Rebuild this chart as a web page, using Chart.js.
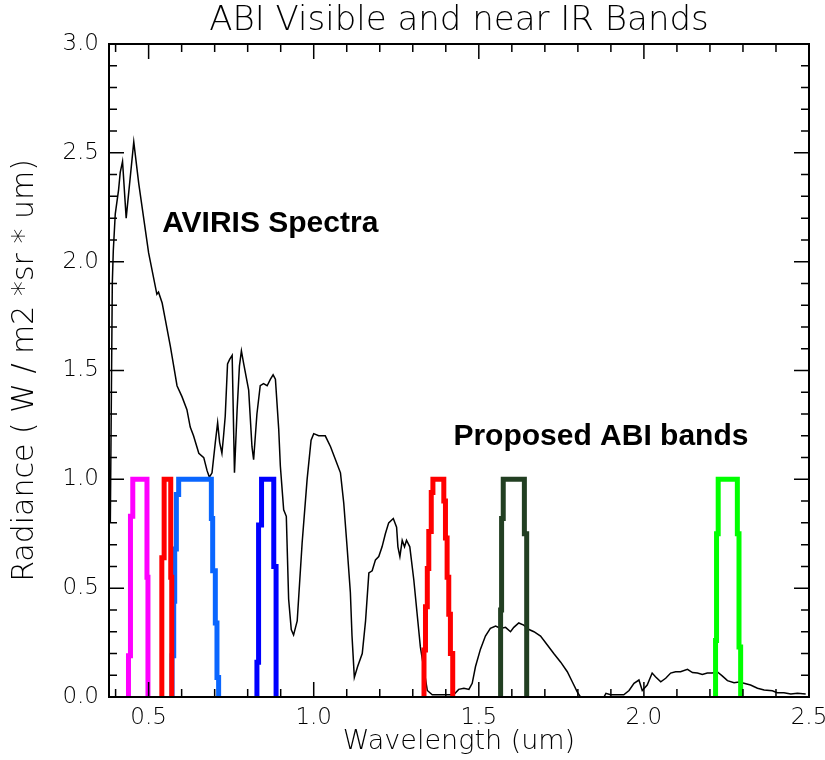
<!DOCTYPE html>
<html>
<head>
<meta charset="utf-8">
<title>ABI Visible and near IR Bands</title>
<script src="https://cdn.jsdelivr.net/npm/chart.js@4.4.1/dist/chart.umd.min.js"></script>
<style>
  html, body { margin: 0; padding: 0; background: #fff; }
</style>
</head>
<body>
<canvas id="chart" width="825" height="760"></canvas>
<script>
// ─── Data ───────────────────────────────────────────────────────────
const xTicks = [0.5, 1.0, 1.5, 2.0, 2.5];
const yTicks = [0.0, 0.5, 1.0, 1.5, 2.0, 2.5, 3.0];

// AVIRIS radiance spectrum: [wavelength um, radiance]
const aviris = [
    [0.384, 0.80], [0.390, 1.90], [0.393, 2.05], [0.399, 2.22], [0.409, 2.33],
    [0.414, 2.41], [0.421, 2.46], [0.432, 2.20], [0.455, 2.55], [0.470, 2.36],
    [0.500, 2.04], [0.525, 1.85], [0.530, 1.86], [0.541, 1.81], [0.551, 1.73],
    [0.566, 1.61], [0.576, 1.52], [0.586, 1.43], [0.601, 1.38], [0.616, 1.32],
    [0.626, 1.24], [0.636, 1.20], [0.652, 1.12], [0.667, 1.10], [0.677, 1.04],
    [0.684, 1.01], [0.692, 1.03], [0.702, 1.17], [0.709, 1.26], [0.715, 1.17],
    [0.722, 1.12], [0.727, 1.20], [0.732, 1.29], [0.739, 1.53], [0.745, 1.55],
    [0.753, 1.57], [0.760, 1.03], [0.768, 1.32], [0.775, 1.52], [0.781, 1.59],
    [0.788, 1.53], [0.803, 1.41], [0.813, 1.15], [0.818, 1.09], [0.828, 1.30],
    [0.838, 1.43], [0.848, 1.44], [0.859, 1.43], [0.869, 1.46], [0.877, 1.48],
    [0.884, 1.46], [0.894, 1.23], [0.899, 1.06], [0.909, 0.86], [0.917, 0.83],
    [0.924, 0.45], [0.932, 0.31], [0.939, 0.285], [0.950, 0.35], [0.965, 0.71],
    [0.980, 1.00], [0.992, 1.18], [1.000, 1.21], [1.015, 1.20], [1.035, 1.20],
    [1.051, 1.15], [1.066, 1.09], [1.081, 1.03], [1.091, 0.89], [1.101, 0.69],
    [1.111, 0.48], [1.116, 0.28], [1.123, 0.09], [1.133, 0.14], [1.147, 0.20],
    [1.157, 0.35], [1.167, 0.57], [1.177, 0.58], [1.187, 0.63], [1.197, 0.645],
    [1.207, 0.69], [1.217, 0.75], [1.227, 0.80], [1.241, 0.82], [1.251, 0.78],
    [1.255, 0.69], [1.261, 0.645], [1.268, 0.72], [1.275, 0.69], [1.281, 0.72],
    [1.291, 0.69], [1.303, 0.54], [1.313, 0.385], [1.323, 0.23], [1.344, 0.03],
    [1.359, 0.01], [1.424, 0.01], [1.439, 0.035], [1.455, 0.04], [1.470, 0.035],
    [1.480, 0.063], [1.490, 0.14], [1.505, 0.22], [1.520, 0.28], [1.535, 0.315],
    [1.551, 0.326], [1.566, 0.315], [1.581, 0.32], [1.596, 0.30], [1.606, 0.32],
    [1.621, 0.34], [1.636, 0.33], [1.652, 0.31], [1.667, 0.30], [1.687, 0.28],
    [1.707, 0.24], [1.727, 0.20], [1.748, 0.16], [1.768, 0.116], [1.783, 0.07],
    [1.798, 0.024], [1.808, 0.0], [1.879, 0.0], [1.885, 0.017], [1.899, 0.01],
    [1.939, 0.01], [1.955, 0.03], [1.970, 0.063], [1.985, 0.078], [1.995, 0.03],
    [2.010, 0.055], [2.025, 0.11], [2.035, 0.093], [2.051, 0.07], [2.066, 0.086],
    [2.081, 0.11], [2.096, 0.116], [2.111, 0.116], [2.132, 0.127], [2.147, 0.112],
    [2.162, 0.11], [2.177, 0.104], [2.192, 0.11], [2.207, 0.11], [2.222, 0.116],
    [2.238, 0.096], [2.253, 0.075], [2.273, 0.066], [2.288, 0.069], [2.303, 0.063],
    [2.323, 0.055], [2.344, 0.04], [2.364, 0.032], [2.389, 0.029], [2.404, 0.02],
    [2.424, 0.02], [2.445, 0.014], [2.465, 0.017], [2.490, 0.014]
];

// Proposed ABI band responses (normalised)
const band047 = [[0.439, 0], [0.439, 0.19], [0.445, 0.19], [0.445, 0.83], [0.452, 0.83], [0.452, 1.0],
    [0.495, 1.0], [0.495, 0.55], [0.498, 0.55], [0.498, 0]];
const band055 = [[0.540, 0], [0.540, 0.64], [0.547, 0.64], [0.547, 1.0], [0.567, 1.0],
    [0.567, 0.55], [0.570, 0.55], [0.570, 0]];
const band064 = [[0.571, 0], [0.571, 0.19], [0.576, 0.19], [0.576, 0.44], [0.579, 0.44], [0.579, 0.68],
    [0.584, 0.68], [0.584, 0.93], [0.591, 0.93], [0.591, 1.0], [0.690, 1.0], [0.690, 0.82],
    [0.694, 0.82], [0.694, 0.58], [0.702, 0.58], [0.702, 0.34], [0.707, 0.34], [0.707, 0.09],
    [0.712, 0.09], [0.712, 0]];
const band086 = [[0.828, 0], [0.828, 0.16], [0.833, 0.16], [0.833, 0.79], [0.842, 0.79], [0.842, 1.0],
    [0.879, 1.0], [0.879, 0.60], [0.886, 0.60], [0.886, 0]];
const band138 = [[1.334, 0], [1.334, 0.216], [1.3385, 0.216], [1.3385, 0.415], [1.344, 0.415],
    [1.344, 0.59], [1.3485, 0.59], [1.3485, 0.76], [1.356, 0.76], [1.356, 0.94], [1.361, 0.94],
    [1.361, 1.0], [1.394, 1.0], [1.394, 0.90], [1.399, 0.90], [1.399, 0.73], [1.404, 0.73],
    [1.404, 0.55], [1.409, 0.55], [1.409, 0.38], [1.414, 0.38], [1.414, 0.20], [1.421, 0.20], [1.421, 0]];
const band161 = [[1.566, 0], [1.566, 0.40], [1.569, 0.40], [1.569, 0.82], [1.574, 0.82], [1.574, 1.0],
    [1.638, 1.0], [1.638, 0.75], [1.645, 0.75], [1.645, 0]];
const band226 = [[2.217, 0], [2.217, 0.26], [2.220, 0.26], [2.220, 0.75], [2.225, 0.75], [2.225, 1.0],
    [2.283, 1.0], [2.283, 0.75], [2.288, 0.75], [2.288, 0.23], [2.293, 0.23], [2.293, 0]];

const notes = [
    { text: 'AVIRIS Spectra', x: 0.541, y: 2.137 },
    { text: 'Proposed ABI bands', x: 1.423, y: 1.158 }
];

// ─── Helpers ─────────────────────────────────────────────────────────
const toPts = arr => arr.map(p => ({ x: p[0], y: p[1] }));

function bandSet(pts, color) {
    return {
        data: toPts(pts),
        showLine: true,
        borderColor: color,
        borderWidth: 5,
        pointRadius: 0,
        tension: 0,
        borderJoinStyle: 'miter'
    };
}

// inward ticks, frame and the two text notes
const frameTicks = {
    id: 'frameTicks',
    afterDatasetsDraw(chart) {
        const { ctx, chartArea: a, scales: { x, y } } = chart;
        ctx.save();
        ctx.strokeStyle = '#000';
        ctx.lineWidth = 2;
        ctx.strokeRect(a.left, a.top, a.right - a.left, a.bottom - a.top);

        ctx.lineWidth = 1.5;
        ctx.beginPath();
        for (let i = 4; i <= 25; i++) {
            const px = x.getPixelForValue(i / 10);
            const len = i % 5 === 0 ? 15 : 8;
            ctx.moveTo(px, a.bottom); ctx.lineTo(px, a.bottom - len);
            ctx.moveTo(px, a.top); ctx.lineTo(px, a.top + len);
        }
        for (let i = 0; i <= 30; i++) {
            const py = y.getPixelForValue(i / 10);
            const len = i % 5 === 0 ? 15 : 8;
            ctx.moveTo(a.left, py); ctx.lineTo(a.left + len, py);
            ctx.moveTo(a.right, py); ctx.lineTo(a.right - len, py);
        }
        ctx.stroke();

        ctx.fillStyle = '#000';
        ctx.font = 'bold 30px "Liberation Sans", Arial, sans-serif';
        ctx.textAlign = 'left';
        ctx.textBaseline = 'alphabetic';
        notes.forEach(n => ctx.fillText(n.text, x.getPixelForValue(n.x), y.getPixelForValue(n.y)));
        ctx.restore();
    }
};

// ─── Chart ───────────────────────────────────────────────────────────
Chart.defaults.font.family = '"DejaVu Sans", sans-serif';
Chart.defaults.color = '#000';

const tickFont = { size: 23, weight: 200 };

new Chart(document.getElementById('chart'), {
    type: 'scatter',
    data: {
        datasets: [
            bandSet(band047, '#ff00ff'),
            bandSet(band055, '#ff0000'),
            bandSet(band064, '#0a66ff'),
            bandSet(band086, '#0000ff'),
            bandSet(band138, '#ff0000'),
            bandSet(band161, '#223f22'),
            bandSet(band226, '#00ff00'),
            {
                data: toPts(aviris),
                showLine: true,
                borderColor: '#000',
                borderWidth: 1.5,
                pointRadius: 0,
                tension: 0
            }
        ]
    },
    options: {
        responsive: false,
        animation: false,
        layout: { padding: { left: 0, right: 16, top: 0, bottom: 0 } },
        plugins: {
            legend: { display: false },
            tooltip: { enabled: false },
            title: {
                display: true,
                text: 'ABI Visible and near IR Bands',
                fullSize: false,
                font: { size: 34, weight: 200, lineHeight: 1.1 },
                padding: { top: 2, bottom: 4.6 }
            }
        },
        scales: {
            x: {
                type: 'linear',
                min: 0.38,
                max: 2.5,
                grid: { display: false, drawTicks: false },
                border: { display: false },
                afterBuildTicks: s => { s.ticks = xTicks.map(v => ({ value: v })); },
                afterFit: s => { s.height = 63; s.paddingLeft = 0; s.paddingRight = 0; },
                ticks: {
                    font: tickFont,
                    padding: 7,
                    maxRotation: 0,
                    callback: v => v.toFixed(1)
                },
                title: {
                    display: true,
                    text: 'Wavelength (um)',
                    font: { size: 27, weight: 200 },
                    padding: { top: 0, bottom: 2 }
                }
            },
            y: {
                type: 'linear',
                min: 0,
                max: 3.0,
                grid: { display: false, drawTicks: false },
                border: { display: false },
                afterBuildTicks: s => { s.ticks = yTicks.map(v => ({ value: v })); },
                afterFit: s => { s.width = 109; s.paddingTop = 0; s.paddingBottom = 0; },
                ticks: {
                    font: tickFont,
                    padding: 10,
                    callback: v => v.toFixed(1)
                },
                title: {
                    display: true,
                    text: 'Radiance ( W / m2 *sr * um)',
                    font: { size: 30, weight: 200 },
                    padding: { top: 7, bottom: 0 }
                }
            }
        }
    },
    plugins: [frameTicks]
});
</script>
</body>
</html>
